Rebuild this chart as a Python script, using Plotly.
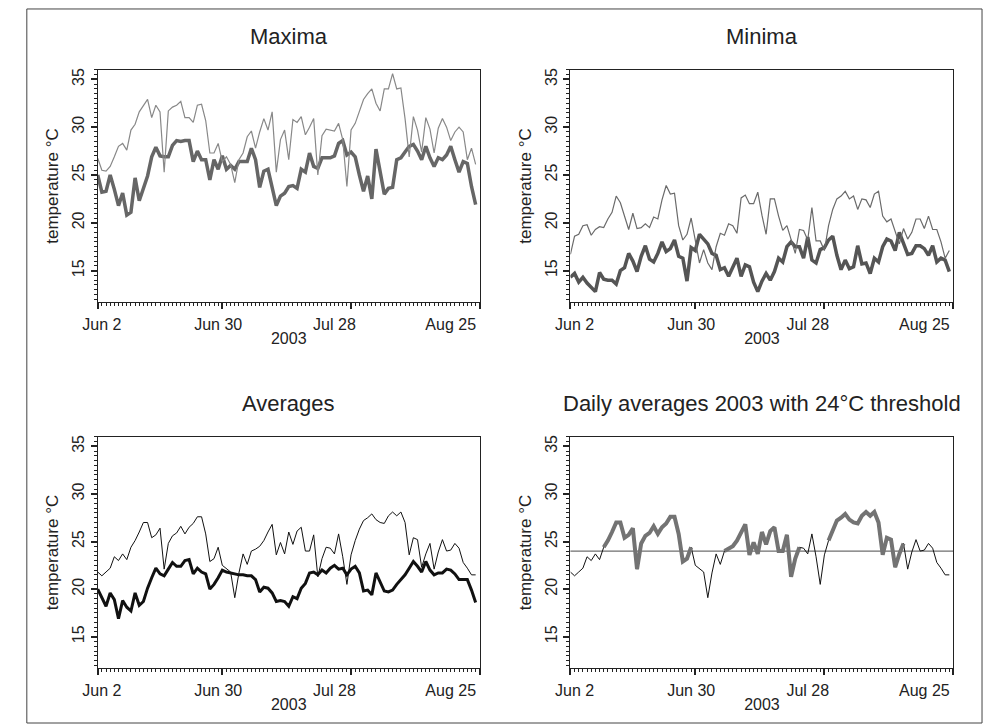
import pandas as pd
import plotly.graph_objects as go

# ---------------- data ----------------
dates = pd.date_range("2003-06-01", "2003-08-31", freq="D")

max_2003 = [26.75, 25.5, 25.4, 25.9, 26.9, 28.0, 28.3, 27.6, 29.7, 30.3, 31.6, 32.3, 32.9, 31.0, 32.3,
            31.6, 25.3, 31.7, 32.1, 32.3, 32.7, 31.0, 31.0, 30.5, 32.3, 32.4, 30.7, 27.3, 27.3, 28.3,
            26.4, 26.9, 26.1, 24.2, 26.6, 27.3, 29.0, 29.6, 27.8, 29.5, 30.9, 29.7, 31.6, 25.3, 28.7,
            29.7, 26.6, 30.8, 30.5, 31.1, 29.2, 30.0, 30.9, 25.0, 29.1, 29.8, 29.7, 29.6, 30.4, 28.7,
            23.8, 29.7, 30.4, 31.7, 32.9, 33.5, 34.0, 32.5, 31.7, 34.0, 34.0, 35.6, 34.0, 34.1, 30.9,
            26.9, 31.1, 29.7, 27.4, 31.0, 29.8, 27.3, 29.9, 30.9, 30.0, 28.6, 29.5, 30.0, 29.5, 26.6,
            27.8, 26.1]
max_ref = [25.0, 23.2, 23.3, 25.0, 23.5, 21.8, 23.1, 20.8, 21.1, 24.7, 22.3, 23.7, 24.9, 26.9, 27.9,
           27.0, 26.9, 26.9, 28.1, 28.6, 28.5, 28.6, 28.6, 26.4, 27.5, 26.6, 26.6, 24.5, 26.6, 25.6,
           27.0, 25.6, 26.0, 25.6, 26.4, 26.4, 26.4, 27.8, 26.6, 23.7, 25.4, 25.6, 23.7, 21.8, 22.8,
           23.1, 23.8, 23.9, 23.6, 25.6, 25.3, 27.3, 25.9, 25.7, 26.8, 26.8, 26.8, 27.0, 28.3, 28.6,
           27.1, 27.4, 26.9, 25.0, 23.3, 24.9, 22.5, 27.7, 25.2, 23.0, 23.6, 23.7, 26.6, 26.8, 27.4,
           28.0, 28.2, 27.5, 26.6, 28.0, 26.8, 25.9, 26.8, 26.6, 27.1, 28.0, 26.6, 25.3, 26.4, 26.2,
           23.8, 21.9]
min_2003 = [16.7, 18.6, 18.8, 19.7, 19.8, 18.7, 19.3, 19.6, 19.5, 20.4, 21.1, 22.8, 22.1, 20.7, 19.3,
            21.0, 19.4, 19.5, 19.9, 19.5, 20.6, 20.4, 22.4, 23.9, 23.0, 23.1, 19.7, 18.2, 18.8, 20.5,
            18.2, 15.8, 17.2, 15.8, 15.1, 17.5, 18.9, 18.7, 19.9, 19.7, 18.9, 22.6, 22.9, 22.0, 22.0,
            23.2, 20.8, 18.8, 22.5, 22.5, 20.7, 19.2, 19.7, 18.3, 16.8, 19.3, 19.2, 18.2, 21.6, 18.1,
            18.1, 17.1, 19.7, 21.4, 22.5, 22.8, 23.3, 22.5, 22.8, 21.4, 22.5, 22.4, 21.6, 23.0, 23.3,
            20.7, 20.1, 20.4, 19.0, 17.8, 19.4, 18.3, 19.0, 20.4, 20.4, 19.4, 20.7, 19.3, 19.3, 18.0,
            16.3, 17.1]
min_ref = [14.3, 14.7, 13.8, 14.3, 13.7, 13.2, 12.8, 14.8, 14.1, 14.0, 14.0, 13.6, 15.0, 15.3, 16.8,
           16.0, 14.9, 16.5, 17.6, 16.2, 15.9, 16.8, 18.0, 17.0, 17.3, 18.2, 16.5, 16.3, 13.9, 17.4,
           17.1, 18.8, 18.3, 17.8, 16.8, 16.6, 15.1, 15.3, 14.4, 15.4, 16.3, 14.4, 15.6, 15.4, 13.8,
           12.8, 13.9, 14.7, 14.0, 14.9, 16.3, 15.9, 17.5, 18.0, 17.5, 17.5, 16.3, 18.5, 16.1, 15.8,
           17.2, 17.4, 18.2, 18.6, 16.6, 15.1, 16.1, 15.2, 15.4, 17.6, 15.7, 15.8, 14.7, 16.3, 15.9,
           17.5, 18.3, 18.1, 17.1, 19.0, 17.8, 16.7, 16.8, 17.6, 17.6, 17.3, 16.6, 17.6, 15.9, 16.3,
           16.1, 14.9]
avg_2003 = [21.8, 21.4, 21.8, 22.2, 23.4, 23.0, 23.7, 23.1, 24.4, 25.1, 26.0, 27.0, 27.0, 25.4, 25.7,
            26.4, 22.1, 24.8, 25.6, 25.9, 26.6, 25.8, 26.5, 26.9, 27.6, 27.6, 25.8, 22.9, 23.2, 24.4,
            22.5, 22.1, 21.8, 19.1, 21.7, 23.7, 22.6, 24.0, 24.2, 24.5, 25.1, 26.0, 26.8, 23.6, 24.9,
            23.7, 26.0, 24.7, 26.1, 26.5, 24.0, 24.0, 25.7, 21.3, 23.2, 24.4, 24.3, 23.7, 25.8, 23.4,
            20.5, 23.6, 25.1, 26.3, 27.2, 27.5, 27.9, 27.3, 27.0, 26.9, 27.7, 28.1, 27.7, 28.1, 27.0,
            23.6, 25.4, 25.2, 22.3, 23.7, 24.8, 22.1, 23.9, 25.2, 24.0, 24.1, 24.8, 24.3, 22.8, 22.2,
            21.5, 21.5]
avg_ref = [20.0, 19.1, 18.2, 19.6, 18.9, 16.9, 18.8, 18.1, 17.7, 19.6, 18.3, 18.7, 20.1, 21.2, 22.2,
           21.6, 21.4, 22.1, 22.8, 22.4, 22.4, 23.0, 23.1, 21.6, 22.2, 21.8, 21.6, 20.0, 20.5, 21.2,
           22.0, 21.8, 21.7, 21.6, 21.5, 21.5, 21.4, 21.4, 21.0, 19.7, 20.2, 20.1, 19.6, 18.7, 18.8,
           18.7, 18.2, 19.2, 19.0, 20.1, 20.6, 21.7, 21.8, 21.5, 22.0, 21.7, 22.2, 22.5, 22.1, 22.2,
           21.5, 22.1, 22.4, 21.7, 19.8, 19.9, 19.4, 21.7, 20.8, 19.8, 19.7, 19.9, 20.5, 21.0, 21.5,
           22.2, 22.9, 22.4, 21.8, 22.9, 22.0, 21.5, 21.7, 21.7, 22.1, 22.0, 21.6, 21.0, 21.0, 21.0,
           19.9, 18.6]

threshold = 24
heat_periods = [("2003-06-09", "2003-06-30"), ("2003-07-08", "2003-07-26"), ("2003-08-02", "2003-08-20")]

titles = ["Maxima", "Minima", "Averages", "Daily averages 2003 with 24°C threshold"]
x_label_dates = ["2003-06-02", "2003-06-30", "2003-07-28", "2003-08-25"]
x_label_text = ["Jun 2", "Jun 30", "Jul 28", "Aug 25"]
x_title = "2003"
y_title = "temperature °C"

# ---------------- layout helpers ----------------
W, H = 984, 725
FONT = "Liberation Sans, Arial, sans-serif"
INK = "#222222"
XR = ["2003-06-01", "2003-09-01"]
YR = [11.7, 36.0]

panels = [  # (left, right, top, bottom) in px
    (84, 472, 68, 301),
    (564, 953, 68, 301),
    (84, 472, 436, 668),
    (564, 953, 436, 668),
]

fig = go.Figure()

in_heat = pd.Series(False, index=dates)
for a, b in heat_periods:
    in_heat[(dates >= a) & (dates <= b)] = True
avg_heat = [v if h else None for v, h in zip(avg_2003, in_heat.values)]

series = [
    [(max_ref, "#666666", 3.5), (max_2003, "#888888", 1.2)],
    [(min_ref, "#555555", 3.5), (min_2003, "#6a6a6a", 1.2)],
    [(avg_ref, "#111111", 3.0), (avg_2003, "#111111", 1.0)],
    [(avg_2003, "#111111", 1.0), (avg_heat, "#737373", 4.0)],
]

layout = {}
for k, (l, r, t, b) in enumerate(panels):
    n = k + 1
    sx = "" if n == 1 else str(n)
    lab = str(n + 4)
    dom_x = [l / W, r / W]
    dom_y = [1 - b / H, 1 - t / H]
    layout[f"xaxis{sx}"] = dict(
        type="date", range=XR, domain=dom_x, anchor=f"y{sx}",
        showline=True, linecolor=INK, linewidth=1, mirror=True, showgrid=False,
        tickmode="linear", tick0="2003-06-01", dtick="M1",
        ticks="outside", ticklen=6, tickwidth=2, tickcolor=INK, showticklabels=False,
        minor=dict(tickmode="linear", tick0="2003-06-01", dtick=86400000,
                   ticks="outside", ticklen=3, tickwidth=1, tickcolor=INK, showgrid=False),
    )
    layout[f"xaxis{lab}"] = dict(
        type="date", range=XR, overlaying=f"x{sx}", anchor=f"y{sx}", side="bottom",
        showline=False, showgrid=False, tickmode="array", tickvals=x_label_dates,
        ticktext=x_label_text, ticks="outside", ticklen=8, tickcolor="rgba(0,0,0,0)",
        tickfont=dict(family=FONT, size=16, color=INK),
        title=dict(text=x_title, font=dict(family=FONT, size=16, color=INK), standoff=0),
    )
    layout[f"yaxis{sx}"] = dict(
        range=YR, domain=dom_y, anchor=f"x{sx}",
        showline=True, linecolor=INK, linewidth=1, mirror=True, showgrid=False, zeroline=False,
        tickmode="linear", tick0=15, dtick=5, ticks="outside", ticklen=6, tickwidth=2,
        tickcolor=INK, tickangle=-90, tickfont=dict(family=FONT, size=16, color=INK),
        minor=dict(tickmode="linear", tick0=15, dtick=0.5, ticks="outside", ticklen=3,
                   tickwidth=1, tickcolor=INK, showgrid=False),
        title=dict(text=y_title, font=dict(family=FONT, size=17, color=INK), standoff=7),
    )
    for j, (vals, color, width) in enumerate(series[k]):
        xa = f"x{sx}" if j == 0 else f"x{lab}"
        fig.add_trace(go.Scatter(x=dates, y=vals, mode="lines", xaxis=xa, yaxis=f"y{sx}",
                                 line=dict(color=color, width=width), connectgaps=False,
                                 showlegend=False, hoverinfo="skip"))
    layout.setdefault("annotations", []).append(dict(
        text=titles[k], x=(l + r) / 2 / W, y=1 - (t - 33) / H, xref="paper", yref="paper",
        xanchor="center", yanchor="middle", showarrow=False,
        font=dict(family=FONT, size=22, color=INK)))

shapes = [
    dict(type="line", xref="x4 domain", x0=0, x1=1, yref="y4", y0=threshold, y1=threshold,
         line=dict(color="#6e6e6e", width=1.2), layer="below"),
    dict(type="rect", xref="paper", yref="paper", x0=12 / W, x1=982 / W, y0=1 - 723 / H, y1=1 - 7 / H,
         line=dict(color="#444444", width=1)),
]

fig.update_layout(
    width=W, height=H, margin=dict(l=0, r=0, t=0, b=0),
    paper_bgcolor="white", plot_bgcolor="white",
    font=dict(family=FONT, color=INK), showlegend=False,
    shapes=shapes, **layout,
)

fig.write_html("out.html")
